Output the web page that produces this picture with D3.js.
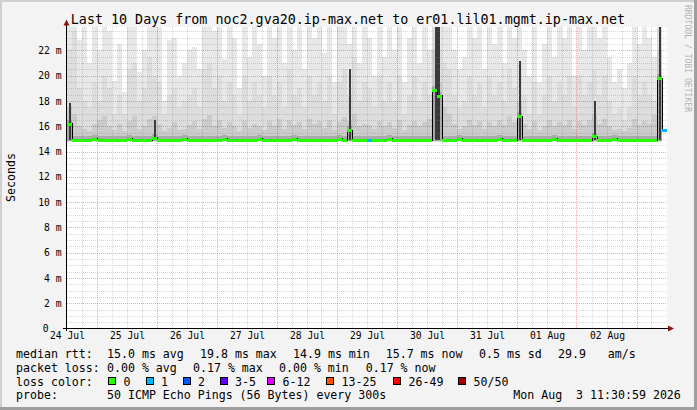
<!DOCTYPE html>
<html><head><meta charset="utf-8">
<script src="https://cdn.jsdelivr.net/npm/d3@7"></script>
<style>
body{margin:0;background:#f3f3f3}
svg{display:block}
text{font-family:"DejaVu Sans Mono",monospace;white-space:pre}
</style>
</head><body>
<svg id="c" width="697" height="410"></svg>
<script>
// ---------- data ----------
const title = "Last 10 Days from noc2.gva20.ip-max.net to er01.lil01.mgmt.ip-max.net";
const dayLabels = ["24 Jul","25 Jul","26 Jul","27 Jul","28 Jul","29 Jul","30 Jul","31 Jul","01 Aug","02 Aug"];
const yTicks = [0,2,4,6,8,10,12,14,16,18,20,22];
// 2-hour columns, values in ms
const smokeMax = [24.5,24.5,22.8,24.5,21.0,24.5,22.0,24.5,23.5,19.6,
 22.5,18.7,24.5,24.5,20.3,22.0,24.5,24.5,24.5,18.0,
 22.8,23.0,20.0,21.0,22.0,22.3,20.5,24.5,24.5,23.5,
 24.5,21.3,24.5,23.0,19.0,24.5,21.5,24.5,22.5,20.0,
 24.5,23.0,24.5,21.0,24.5,22.0,24.5,20.5,24.5,23.0,
 24.5,21.8,24.5,19.5,24.5,24.5,22.5,24.5,21.0,24.5,
 23.0,20.0,24.5,21.5,24.5,22.0,24.5,19.5,23.0,24.5,
 21.0,24.5,22.0,24.5,24.5,24.5,24.5,22.0,20.5,21.5,
 24.5,23.0,24.5,20.5,24.5,22.5,24.5,21.0,24.5,23.0,
 24.5,22.0,20.0,24.5,19.5,22.5,24.5,21.5,24.5,23.0,
 24.5,20.0,24.5,22.0,24.5,24.5,23.0,24.5,21.5,19.5,
 20.5,19.0,21.0,24.5,22.5,24.5,23.0,21.5,24.5,null];
const smokeMid = [22.0,23.5,19.0,18.0,17.5,19.5,18.0,20.0,19.0,17.0,
 18.5,17.0,20.5,21.0,18.0,19.0,21.5,20.0,19.5,17.0,
 18.5,19.0,17.5,18.0,18.5,19.0,17.5,20.5,21.0,19.0,
 20.0,18.0,19.5,18.5,17.0,20.0,18.0,19.5,18.5,17.5,
 20.0,18.5,19.5,17.5,20.5,18.5,19.0,17.5,20.0,18.5,
 19.5,18.0,20.0,17.0,19.5,20.5,18.5,21.5,18.0,19.5,
 19.0,17.5,20.0,18.0,19.5,18.0,20.0,17.0,18.5,20.0,
 18.0,19.5,18.5,24.5,22.0,21.0,20.5,18.5,17.5,18.0,
 20.0,18.5,19.5,17.5,20.0,18.5,19.5,18.0,20.5,19.0,
 21.0,18.5,17.0,19.5,17.0,18.5,20.0,18.0,19.5,18.5,
 20.0,17.5,20.0,18.5,19.5,20.5,18.5,20.0,18.0,17.0,
 17.5,16.5,17.5,20.0,18.5,19.5,18.5,18.0,24.5,null];
const smokeDark = [17.5,17.0,16.0,15.8,15.6,16.2,16.5,16.8,16.0,15.7,
 16.2,15.6,16.4,16.8,15.8,16.0,16.6,16.8,16.2,15.6,
 15.9,16.3,15.7,15.8,16.1,16.4,15.8,16.6,16.9,16.0,
 16.5,15.9,16.3,16.0,15.6,16.4,15.9,16.2,16.0,15.7,
 16.4,16.0,16.6,15.8,16.5,16.1,16.3,15.8,16.6,16.2,
 16.4,15.9,16.5,15.7,16.3,16.7,16.4,17.0,16.0,16.2,
 16.1,15.8,16.4,16.0,16.3,15.9,16.5,15.7,16.1,16.4,
 16.0,16.3,16.6,22.0,19.5,17.5,17.0,16.2,15.8,16.0,
 16.5,16.1,16.4,15.8,16.3,16.0,16.5,16.1,16.8,16.3,
 18.0,16.2,15.8,16.4,15.7,16.0,16.5,16.0,16.3,16.1,
 16.5,15.8,16.4,16.1,16.5,17.0,16.2,16.6,16.0,15.7,
 15.8,15.6,15.9,16.6,16.1,16.4,16.2,16.9,22.0,null];
// dark cores of the spikes: [column, top ms]
const spikeCores = [[0,17.8],[17,16.5],[56,20.5],[73,24.5],[74,24.5],[90,21.2],[105,18.0],[118,24.5]];
const median = [16.2,14.9,14.9,14.9,14.9,15.0,14.9,14.9,14.9,14.9,
 14.9,14.9,15.0,14.9,14.9,14.9,14.9,15.1,14.9,14.9,
 14.9,14.9,14.9,15.0,14.9,14.9,14.9,14.9,14.9,14.9,
 14.9,15.0,14.9,14.9,14.9,14.9,14.9,14.9,15.0,14.9,
 14.9,14.9,14.9,14.9,14.9,15.0,14.9,14.9,14.9,14.9,
 14.9,14.9,14.9,14.9,15.0,14.9,15.7,14.9,14.9,14.9,
 14.9,14.9,14.9,14.9,15.0,14.9,14.9,14.9,14.9,14.9,
 14.9,14.9,14.9,18.9,18.4,14.9,14.9,14.9,15.0,14.9,
 14.9,14.9,14.9,14.9,14.9,14.9,15.0,14.9,14.9,14.9,
 16.8,14.9,14.9,14.9,14.9,14.9,14.9,15.0,14.9,14.9,
 14.9,14.9,14.9,14.9,14.9,15.2,14.9,14.9,14.9,15.0,
 14.9,14.9,14.9,14.9,14.9,14.9,14.9,14.9,19.8,15.7];
const lossIdx = [0,0,0,0,0,0,0,0,0,0, 0,0,0,0,0,0,0,0,0,0, 0,0,0,0,0,0,0,0,0,0,
 0,0,0,0,0,0,0,0,0,0, 0,0,0,0,0,0,0,0,0,0, 0,0,0,0,0,0,0,0,0,0,
 1,0,0,0,0,0,0,0,0,0, 0,0,0,0,0,0,0,0,0,0, 0,0,0,0,0,0,0,0,0,0,
 0,0,0,0,0,0,0,0,0,0, 0,0,0,0,0,0,0,0,0,0, 0,0,0,0,0,0,0,0,0,1];
const lossLabels = ["0","1","2","3-5","6-12","13-25","26-49","50/50"];
const lossColors = ["#26ff00","#00b8ff","#0059ff","#5e00ff","#dd00ff","#ff5500","#ff0000","#a10000"];
const legendRtt = ["median rtt:","15.0 ms avg","19.8 ms max","14.9 ms min","15.7 ms now","0.5 ms sd","29.9","am/s"];
const legendLoss = ["packet loss:","0.00 % avg","0.17 % max","0.00 % min","0.17 % now"];
const legendProbe = ["probe:","50 ICMP Echo Pings (56 Bytes) every 300s","Mon Aug  3 11:30:59 2026"];

// ---------- drawing ----------
const svg = d3.select("#c");
const W = 697, H = 410;
svg.append("rect").attr("width",W).attr("height",H).attr("fill","#f3f3f3");
svg.append("rect").attr("x",0).attr("y",0).attr("width",W).attr("height",2).attr("fill","#cfcfcf");
svg.append("rect").attr("x",0).attr("y",0).attr("width",2).attr("height",H).attr("fill","#cfcfcf");
svg.append("rect").attr("x",W-3).attr("y",0).attr("width",3).attr("height",H).attr("fill","#9e9e9e");
svg.append("rect").attr("x",0).attr("y",H-3).attr("width",W).attr("height",3).attr("fill","#9e9e9e");

const x = d3.scaleLinear().domain([0,240]).range([67,667]);
const y = d3.scaleLinear().domain([0,23.85]).range([328.5,27]);
const colHours = 2;

svg.append("rect").attr("x",67).attr("y",27).attr("width",600).attr("height",301.5).attr("fill","#ffffff");
svg.append("clipPath").attr("id","pc").append("rect").attr("x",67).attr("y",27).attr("width",600).attr("height",301.5);
const plot = svg.append("g").attr("clip-path","url(#pc)").attr("shape-rendering","crispEdges");

const base = 14.75;
function band(i, lo, hi, color){
  if (hi == null) return;
  const x0 = Math.round(x(i*colHours)), x1 = Math.round(x((i+1)*colHours));
  const y0 = y(lo), y1 = y(hi);
  plot.append("rect").attr("x",x0).attr("width",x1-x0)
    .attr("y",Math.min(y0,y1)).attr("height",Math.abs(y0-y1)).attr("fill",color);
}
median.forEach((m,i)=>{
  if (smokeMax[i] == null) return;
  band(i, base, smokeMax[i], "#e8e8e8");
  band(i, base+0.03, Math.min(smokeMid[i], smokeMax[i]), "#dddddd");
  band(i, base+0.06, smokeDark[i], "#cbcbcb");
  band(i, base+0.08, m+0.3, "#aaaaaa");
});
// spike cores: consecutive columns merged into one dark bar
const groups = [];
spikeCores.forEach(([i,top])=>{
  const g = groups[groups.length-1];
  if (g && g.last === i-1) { g.last = i; g.top = Math.max(g.top, top); }
  else groups.push({first:i, last:i, top:top});
});
groups.forEach(g=>{
  const inset = g.last > g.first ? 2.5 : 1.5;
  const x0 = Math.round(x(g.first*colHours)) + inset, x1 = Math.round(x((g.last+1)*colHours)) - inset;
  plot.append("rect").attr("x",x0).attr("width",x1-x0)
    .attr("y",y(g.top)).attr("height",y(14.9)-y(g.top)).attr("fill","#3a3a3a");
});

// grid
const grid = svg.append("g").attr("shape-rendering","crispEdges");
const minorH = d3.range(1,48).map(k=>k*0.5).filter(v=>v%2!==0);
const majorH = yTicks.filter(v=>v>0);
grid.selectAll(".mh").data(minorH).enter().append("line")
  .attr("x1",67).attr("x2",667).attr("y1",d=>Math.round(y(d))+0.5).attr("y2",d=>Math.round(y(d))+0.5)
  .attr("stroke","rgba(128,128,128,0.32)").attr("stroke-dasharray","1,1");
const hoursMinor = d3.range(6,240,6).filter(h=>(h-12)%24!==0);
const hoursMajor = d3.range(12,240,24);
grid.selectAll(".mv").data(hoursMinor).enter().append("line")
  .attr("y1",27).attr("y2",328).attr("x1",d=>Math.floor(x(d))+0.5).attr("x2",d=>Math.floor(x(d))+0.5)
  .attr("stroke","rgba(128,128,128,0.32)").attr("stroke-dasharray","1,1");
grid.selectAll(".Mh").data(majorH).enter().append("line")
  .attr("x1",67).attr("x2",667).attr("y1",d=>Math.round(y(d))+0.5).attr("y2",d=>Math.round(y(d))+0.5)
  .attr("stroke","rgba(215,0,0,0.33)").attr("stroke-dasharray","1,1");
grid.selectAll(".Mv").data(hoursMajor).enter().append("line")
  .attr("y1",27).attr("y2",328).attr("x1",d=>Math.floor(x(d))+0.5).attr("x2",d=>Math.floor(x(d))+0.5)
  .attr("stroke","rgba(215,0,0,0.33)").attr("stroke-dasharray","1,1");

// median line (thin black step) + loss-coloured segments
const med = svg.append("g").attr("clip-path","url(#pc)").attr("shape-rendering","crispEdges");
const stepPts = [];
median.forEach((m,i)=>{ stepPts.push([x(i*colHours), y(m)]); stepPts.push([x((i+1)*colHours), y(m)]); });
med.append("path").attr("d", d3.line()(stepPts)).attr("fill","none").attr("stroke","#000").attr("stroke-width",1);
median.forEach((m,i)=>{
  const x0 = Math.round(x(i*colHours)), x1 = Math.round(x((i+1)*colHours));
  med.append("rect").attr("x",x0).attr("width",x1-x0).attr("y",Math.round(y(m))-1.5).attr("height",3)
    .attr("fill",lossColors[lossIdx[i]]);
});

// axes
const yAxis = d3.axisLeft(y).tickValues(yTicks).tickSize(0).tickPadding(0)
  .tickFormat(d=> d===0 ? "0" : d+" m");
const gy = svg.append("g").attr("transform","translate(61.5,0)").call(yAxis);
gy.select(".domain").remove();
gy.selectAll("text").attr("font-family","DejaVu Sans Mono").attr("font-size","9.7px").attr("fill","#000");
gy.selectAll("text").filter(d=>d===0).attr("dx",-13);

const xAxis = d3.axisBottom(x).tickValues(dayLabels.map((d,i)=>i*24)).tickSize(0).tickPadding(0)
  .tickFormat((d,i)=>dayLabels[i]);
const gx = svg.append("g").attr("transform","translate(0,332.5)").call(xAxis);
gx.select(".domain").remove();
gx.selectAll("text").attr("font-family","DejaVu Sans Mono").attr("font-size","9.7px").attr("fill","#000");

svg.append("line").attr("x1",66.5).attr("x2",66.5).attr("y1",24).attr("y2",331).attr("stroke","#000");
svg.append("line").attr("x1",63).attr("x2",669).attr("y1",328.5).attr("y2",328.5).attr("stroke","#000");
svg.append("path").attr("d","M63.5,25.5L69.5,25.5L66.5,19.5Z").attr("fill","#8f1010");
svg.append("path").attr("d","M668,325.5L668,331.5L674,328.5Z").attr("fill","#8f1010");

// title & labels
svg.append("text").attr("x",348).attr("y",23.5).attr("text-anchor","middle")
  .attr("font-size","13.35px").attr("fill","#000").text(title);
svg.append("text").attr("transform","translate(14.5,177.5) rotate(-90)").attr("text-anchor","middle")
  .attr("font-size","11.6px").attr("fill","#000").text("Seconds");
svg.append("text").attr("transform","translate(685,58.5) rotate(90)").attr("text-anchor","middle")
  .attr("font-size","8.1px").attr("fill","#b4b4b4").text("RRDTOOL / TOBI OETIKER");

// legend
const lg = svg.append("g").attr("font-size","11.6px").attr("fill","#000");
const rttX = [16,107,200,293,385.7,479,558,607.7];
legendRtt.forEach((t,i)=>lg.append("text").attr("x",rttX[i]).attr("y",358).text(t));
const lossX = [16,107,193,279,365.7];
legendLoss.forEach((t,i)=>lg.append("text").attr("x",lossX[i]).attr("y",371.8).text(t));
lg.append("text").attr("x",16).attr("y",385.6).text("loss color:");
const boxX = [108,145.5,182.5,219.5,267,326,393,458];
lossLabels.forEach((t,i)=>{
  lg.append("rect").attr("x",boxX[i]+0.5).attr("y",377.5).attr("width",7).attr("height",7)
    .attr("fill",lossColors[i]).attr("stroke","#000").attr("stroke-width",1).attr("shape-rendering","crispEdges");
  lg.append("text").attr("x",boxX[i]+15.5).attr("y",385.6).text(t);
});
const probeX = [16,107,513.3];
legendProbe.forEach((t,i)=>lg.append("text").attr("x",probeX[i]).attr("y",399.4).text(t));
</script>
</body></html>
